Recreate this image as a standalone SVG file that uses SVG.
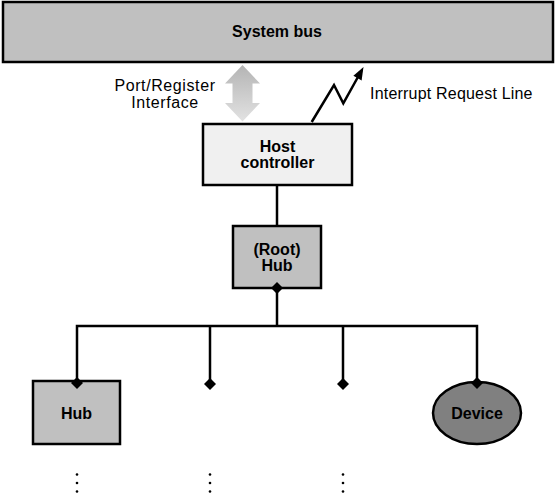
<svg xmlns="http://www.w3.org/2000/svg" width="556" height="495" viewBox="0 0 556 495">
<style>
.box{stroke:#000;stroke-width:2.5}
.lbl{font-family:"Liberation Sans",Arial,sans-serif;font-size:16px;font-weight:bold;text-anchor:middle;fill:#000}
.note{font-family:"Liberation Sans",Arial,sans-serif;font-size:16px;fill:#000}
.wire{fill:none;stroke:#000;stroke-width:2.5}
.dia{fill:#000}
.dot{fill:#000}
</style>
<defs>
<linearGradient id="grad" x1="0" y1="0" x2="0" y2="1">
<stop offset="0" stop-color="#b4b4b4"/>
<stop offset="1" stop-color="#e2e2e2"/>
</linearGradient>
</defs>
<rect width="556" height="495" fill="#fff"/>
<g id="system-bus">
<rect class="box" x="3" y="2" width="550" height="60" fill="#c0c0c0"/>
<text class="lbl" x="277" y="37">System bus</text>
</g>
<g id="host-controller">
<rect class="box" x="203" y="124" width="149" height="61" fill="#f0f0f0"/>
<text class="lbl" x="277.5" y="152">Host</text>
<text class="lbl" x="277.5" y="167.5">controller</text>
</g>
<g id="root-hub">
<rect class="box" x="233" y="226" width="88" height="62" fill="#c0c0c0"/>
<text class="lbl" x="277" y="255">(Root)</text>
<text class="lbl" x="277" y="271">Hub</text>
</g>
<g id="hub">
<rect class="box" x="33" y="381" width="87" height="63" fill="#c0c0c0"/>
<text class="lbl" x="76.5" y="418.5">Hub</text>
</g>
<g id="device">
<ellipse class="box" cx="477" cy="413" rx="44" ry="31" fill="#808080"/>
<text class="lbl" x="477" y="419">Device</text>
</g>
<g id="port-register-interface">
<polygon points="242.5,65 260,83.5 252.5,83.5 252.5,103 260,103 242.5,121.5 225,103 232.5,103 232.5,83.5 225,83.5" fill="url(#grad)"/>
<text class="note" x="165" y="91" text-anchor="middle" font-size="14.5" letter-spacing="0.6">Port/Register</text>
<text class="note" x="165" y="107.5" text-anchor="middle" font-size="14.5" letter-spacing="0.6">Interface</text>
</g>
<g id="interrupt-request-line">
<polyline class="wire" stroke-width="3" points="311.7,122 334,85 343.3,103.3 358.5,76"/>
<polygon points="363.5,67 361.6,80.5 353.4,75.8" fill="#000"/>
<text class="note" x="370" y="99" letter-spacing="0.2">Interrupt Request Line</text>
</g>
<g id="connectors">
<line class="wire" x1="277" y1="185" x2="277" y2="226"/>
<line class="wire" x1="277" y1="288" x2="277" y2="326"/>
<polyline class="wire" points="77,381 77,326 477,326 477,382"/>
<line class="wire" x1="210" y1="325" x2="210" y2="384"/>
<line class="wire" x1="343" y1="325" x2="343" y2="384"/>
<polygon class="dia" points="277,282 283,288 277,294 271,288"/>
<polygon class="dia" points="77,377 83,383 77,389 71,383"/>
<polygon class="dia" points="210,378 216,384 210,390 204,384"/>
<polygon class="dia" points="343,378 349,384 343,390 337,384"/>
<polygon class="dia" points="477,377 483,383 477,389 471,383"/>
</g>
<g id="continuation-dots">
<circle class="dot" cx="77" cy="474.5" r="1.3"/>
<circle class="dot" cx="77" cy="483" r="1.3"/>
<circle class="dot" cx="77" cy="491.5" r="1.3"/>
<circle class="dot" cx="210" cy="474.5" r="1.3"/>
<circle class="dot" cx="210" cy="483" r="1.3"/>
<circle class="dot" cx="210" cy="491.5" r="1.3"/>
<circle class="dot" cx="343" cy="474.5" r="1.3"/>
<circle class="dot" cx="343" cy="483" r="1.3"/>
<circle class="dot" cx="343" cy="491.5" r="1.3"/>
</g>
</svg>
